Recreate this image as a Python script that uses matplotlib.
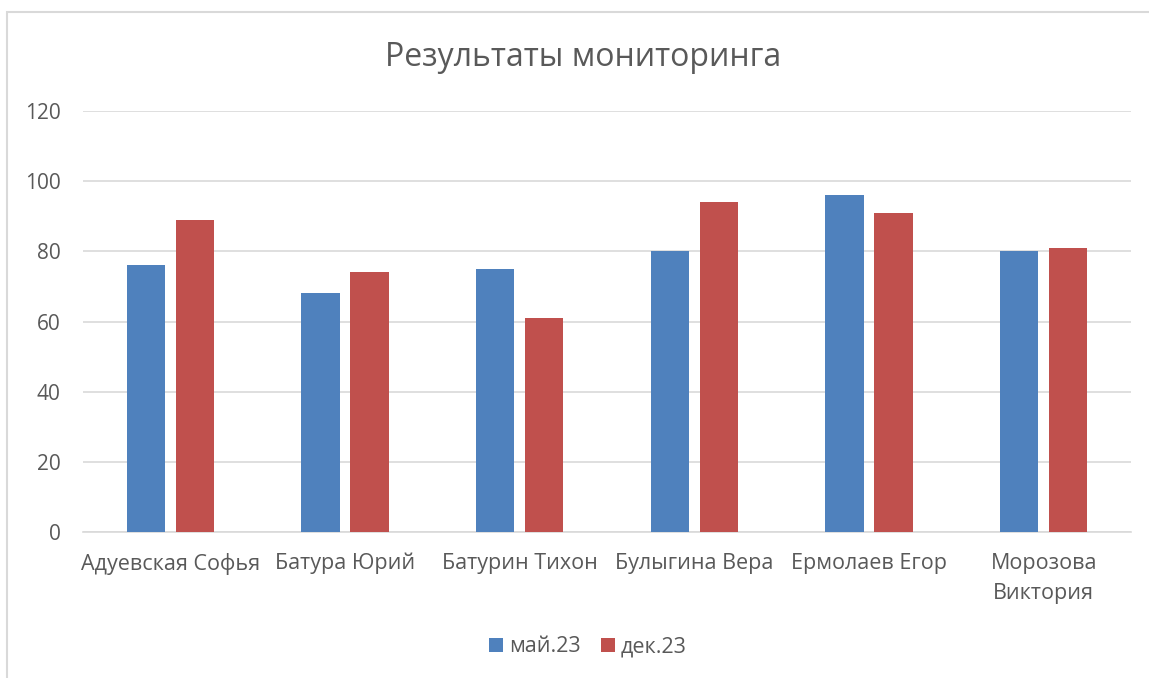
import matplotlib.pyplot as plt
import numpy as np
from matplotlib.patches import Rectangle

plt.rcParams['font.family'] = ['Open Sans', 'DejaVu Sans']

# data
names = ['Адуевская Софья', 'Батура Юрий', 'Батурин Тихон',
         'Булыгина Вера', 'Ермолаев Егор', 'Морозова\nВиктория']
may23 = [76, 68, 75, 80, 96, 80]
dec23 = [89, 74, 61, 94, 91, 81]
series_names = ['май.23', 'дек.23']

blue = '#4F81BD'
red = '#C0504D'
grey = '#595959'

fig = plt.figure(figsize=(11.49, 6.78), dpi=100)
ax = fig.add_axes([83/1149, 1 - 532/678, (1131 - 83)/1149, (532 - 111)/678])

x = np.arange(len(names))
w = 0.22
off = 0.14
ax.bar(x - off, may23, w, color=blue, label=series_names[0], zorder=3)
ax.bar(x + off, dec23, w, color=red, label=series_names[1], zorder=3)

ax.set_xlim(-0.5, len(names) - 0.5)
ax.set_ylim(0, 120)
ax.set_yticks(np.arange(0, 121, 20))
ax.yaxis.grid(True, color='#D9D9D9', linewidth=1.2, zorder=0)
ax.set_xticks(x)
ax.set_xticklabels(names, fontsize=15.5, color=grey, linespacing=1.55)
ax.tick_params(axis='y', labelsize=15, labelcolor=grey, length=0, pad=16)
ax.tick_params(axis='x', length=0, pad=15)
for s in ['top', 'right', 'left']:
    ax.spines[s].set_visible(False)
ax.spines['bottom'].set_color('#D9D9D9')
ax.spines['bottom'].set_linewidth(1.2)

fig.text(583/1149, 1 - 58/678, 'Результаты мониторинга', ha='center',
         va='center', fontsize=23, color=grey)

fig.legend(loc='center', bbox_to_anchor=(588/1149, 1 - 647/678), ncol=2,
           frameon=False, fontsize=15.5, handlelength=0.65, handleheight=0.65,
           handletextpad=0.3, columnspacing=0.9, labelcolor=grey)

# outer chart border
fig.patches.append(Rectangle((7/1149, -0.1), 1.2, 1 - 12/678 + 0.1,
                             transform=fig.transFigure, fill=False,
                             edgecolor='#D9D9D9', linewidth=1.5))

fig.savefig('out.png', dpi=100)
